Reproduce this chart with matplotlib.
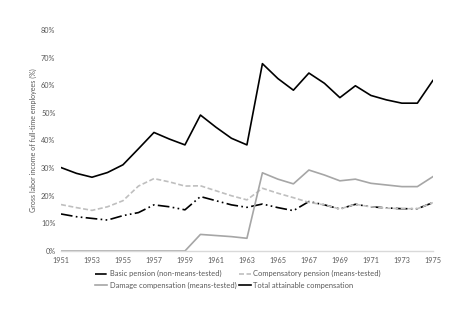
import matplotlib
matplotlib.use("Agg")
import matplotlib.pyplot as plt
from matplotlib.ticker import PercentFormatter

plt.rcParams['font.family'] = ['Lato', 'DejaVu Sans']

years = list(range(1951, 1976))

basic = [13.4, 12.4, 11.8, 11.2, 12.8, 13.9, 16.7, 16.0, 14.9, 19.7, 18.2, 16.7, 15.8,
         17.0, 15.7, 14.6, 17.9, 16.7, 15.2, 16.9, 16.0, 15.6, 15.3, 15.3, 17.5]
compensatory = [16.8, 15.7, 14.7, 16.0, 18.2, 23.5, 26.2, 25.0, 23.5, 23.6, 21.8, 20.0, 18.5,
                22.7, 20.9, 19.3, 17.6, 16.7, 15.2, 16.9, 16.0, 15.5, 15.3, 15.3, 17.5]
damage = [0, 0, 0, 0, 0, 0, 0, 0, 0, 6.0, 5.6, 5.2, 4.6,
          28.3, 26.0, 24.3, 29.3, 27.5, 25.4, 26.0, 24.5, 23.9, 23.3, 23.3, 26.9]
total = [30.2, 28.1, 26.7, 28.4, 31.2, 37.0, 42.9, 40.5, 38.4, 49.2, 44.8, 40.8, 38.4,
         67.8, 62.4, 58.2, 64.4, 60.7, 55.5, 59.8, 56.3, 54.7, 53.5, 53.5, 61.7]

tick_years = years[::2]
label_gray = '#595959'

fig = plt.figure(figsize=(4.71, 3.22), dpi=100)
ax = fig.add_axes([0.1295, 0.2205, 0.7895, 0.6865])

h_basic, = ax.plot(years, basic, color='black', lw=1.2, dashes=(7, 2, 1, 2, 1, 2),
                   label='Basic pension (non-means-tested)')
h_comp, = ax.plot(years, compensatory, color='#bfbfbf', lw=1.2, dashes=(3, 1.5),
                  label='Compensatory pension (means-tested)')
h_damage, = ax.plot(years, damage, color='#a6a6a6', lw=1.2,
                    label='Damage compensation (means-tested)')
h_total, = ax.plot(years, total, color='black', lw=1.2,
                   label='Total attainable compensation')

ax.set_xlim(1951, 1975)
ax.set_ylim(0, 80)
ax.set_xticks(tick_years)
ax.set_xticklabels([str(y) for y in tick_years])
ax.set_yticks(range(0, 81, 10))
ax.yaxis.set_major_formatter(PercentFormatter(decimals=0))
ax.tick_params(axis='both', length=0, labelsize=5.2, labelcolor=label_gray, pad=4)
for side in ['top', 'right', 'left']:
    ax.spines[side].set_visible(False)
ax.spines['bottom'].set_color('#d9d9d9')
ax.spines['bottom'].set_linewidth(1.0)

ax.set_ylabel('Gross labor income of full-time employees (%)', fontsize=5.1,
              color=label_gray, labelpad=3)

# legend fills by column, so order the handles to get the reference rows
handles = [h_basic, h_damage, h_comp, h_total]
fig.legend(handles=handles, labels=[h.get_label() for h in handles],
           loc='upper center', bbox_to_anchor=(0.505, 0.182), ncol=2, frameon=False,
           fontsize=5.4, labelcolor=label_gray, handlelength=1.6, handletextpad=0.3,
           columnspacing=0.3, labelspacing=0.6)

fig.savefig('out.png', dpi=100)
